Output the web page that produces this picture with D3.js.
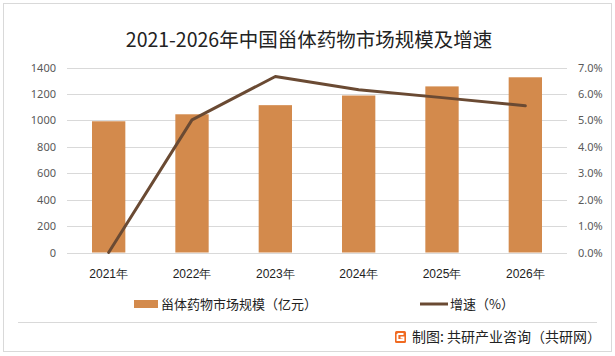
<!DOCTYPE html>
<html><head><meta charset="utf-8">
<script src="https://cdn.jsdelivr.net/npm/d3@7/dist/d3.min.js"></script>
<style>
html,body{margin:0;padding:0;background:#fff;}
svg{display:block;font-family:"Noto Sans CJK SC","Noto Sans",sans-serif;}
</style></head>
<body><svg id="c" width="615" height="356"></svg>
<script>
const years = ["2021年","2022年","2023年","2024年","2025年","2026年"];
const marketSize = [993, 1046, 1115, 1188, 1257, 1326];
const growthRate = [0, 5.02, 6.66, 6.16, 5.86, 5.55];
const leftTicks = [0,200,400,600,800,1000,1200,1400];
const rightTicks = [0,1,2,3,4,5,6,7];
const title = "2021-2026年中国甾体药物市场规模及增速";
const legendBar = "甾体药物市场规模（亿元）";
const legendLine = "增速（%）";
const source = "制图: 共研产业咨询（共研网）";

const svg = d3.select("#c");
const m = {l:67, r:567, t:67.5, b:252.5};
const barColor="#D38A4C", lineColor="#6A4A33", gridColor="#D9D9D9", axisText="#595959";

svg.append("rect").attr("x",3.5).attr("y",3.5).attr("width",608).attr("height",348)
  .attr("fill","#fff").attr("stroke","#D9D9D9").attr("stroke-width",1);

svg.append("text").attr("x",309).attr("y",46.5).attr("text-anchor","middle")
  .attr("font-size",19.5).attr("fill","#222").text(title);

const x = d3.scaleBand().domain(years).range([m.l,m.r]).paddingInner(0.6).paddingOuter(0.3);
const yL = d3.scaleLinear().domain([0,1400]).range([m.b,m.t]);
const yR = d3.scaleLinear().domain([0,7]).range([m.b,m.t]);

// grid
svg.append("g").selectAll("line").data(leftTicks).join("line")
  .attr("x1",m.l).attr("x2",m.r).attr("y1",d=>Math.round(yL(d))+0.5).attr("y2",d=>Math.round(yL(d))+0.5)
  .attr("stroke",gridColor).attr("stroke-width",1);

// left axis
const gl = svg.append("g").attr("transform",`translate(${m.l-11},0)`)
  .call(d3.axisLeft(yL).tickValues(leftTicks).tickSize(0).tickPadding(0).tickFormat(d3.format("d")));
gl.select(".domain").remove();
gl.selectAll("text").attr("font-size",11).attr("fill",axisText).attr("font-family","'Noto Sans','Noto Sans CJK SC',sans-serif");

// right axis
const gr = svg.append("g").attr("transform",`translate(${m.r+11},0)`)
  .call(d3.axisRight(yR).tickValues(rightTicks).tickSize(0).tickPadding(0).tickFormat(d=>d.toFixed(1)+"%"));
gr.select(".domain").remove();
gr.selectAll("text").attr("font-size",11).attr("fill",axisText).attr("font-family","'Noto Sans','Noto Sans CJK SC',sans-serif");

// bars
svg.append("g").selectAll("rect").data(marketSize).join("rect")
  .attr("x",(d,i)=>x(years[i])).attr("width",x.bandwidth())
  .attr("y",d=>yL(d)).attr("height",d=>yL(0)-yL(d)).attr("fill",barColor);

// line
const line = d3.line().x((d,i)=>x(years[i])+x.bandwidth()/2).y(d=>yR(d));
svg.append("path").datum(growthRate).attr("d",line).attr("fill","none")
  .attr("stroke",lineColor).attr("stroke-width",3).attr("stroke-linejoin","round").attr("stroke-linecap","round");

// x axis labels
const gx = svg.append("g").attr("transform",`translate(0,${m.b+5})`)
  .call(d3.axisBottom(x).tickSize(0).tickPadding(12));
gx.select(".domain").remove();
gx.selectAll("text").attr("font-size",12).attr("fill","#222");

// legend
const ly = 304;
svg.append("rect").attr("x",134).attr("y",ly-4).attr("width",24).attr("height",8).attr("fill",barColor);
svg.append("text").attr("x",161).attr("y",ly).attr("dy","0.35em").attr("font-size",13).attr("fill","#222").text(legendBar);
svg.append("line").attr("x1",420).attr("x2",448).attr("y1",ly).attr("y2",ly).attr("stroke",lineColor).attr("stroke-width",3);
svg.append("text").attr("x",450).attr("y",ly).attr("dy","0.35em").attr("font-size",13).attr("fill","#222").text(legendLine);

// separator
svg.append("line").attr("x1",18).attr("x2",597).attr("y1",322.5).attr("y2",322.5).attr("stroke","#D9D9D9");

// footer logo
const lg = svg.append("g").attr("transform","translate(395,331)");
lg.append("rect").attr("width",11).attr("height",12).attr("rx",1.5).attr("fill","#F06A21");
lg.append("path").attr("d","M2.5,3 H8.5 M2.5,3 V9 H8.5 V6.5 H5.5").attr("fill","none").attr("stroke","#fff").attr("stroke-width",1.8);
svg.append("text").attr("x",412).attr("y",337).attr("dy","0.35em").attr("font-size",14).attr("fill","#222").text(source);
</script></body></html>
